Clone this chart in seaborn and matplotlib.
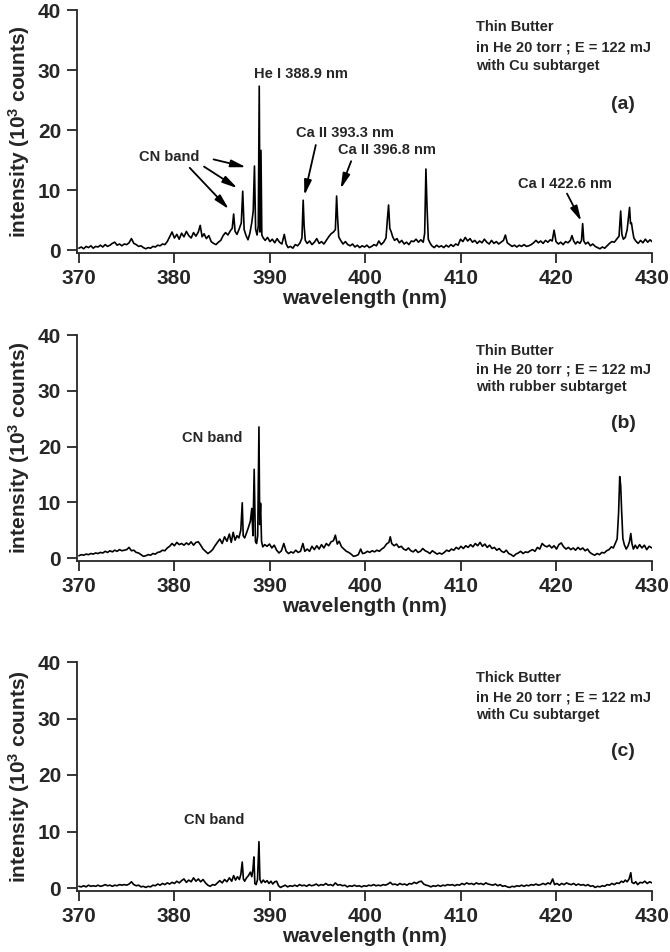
import matplotlib
matplotlib.use("Agg")
import numpy as np
import pandas as pd
import matplotlib.pyplot as plt
import seaborn as sns

# spectra: (wavelength nm, intensity 10^3 counts)
spec_a = [
    (370.0, 0.3), (370.25, 0.5), (370.5, 0.2), (370.75, 0.6), (371.0, 0.4), (371.25, 0.7),
    (371.5, 0.3), (371.75, 0.6), (372.0, 0.5), (372.25, 0.8), (372.5, 0.5), (372.75, 0.9),
    (373.0, 0.6), (373.25, 0.8), (373.5, 1.1), (373.75, 1.3), (374.0, 0.8), (374.25, 1.0),
    (374.5, 0.7), (374.75, 1.0), (375.0, 0.9), (375.25, 1.2), (375.5, 1.9), (375.75, 1.1),
    (376.0, 0.9), (376.25, 0.6), (376.5, 0.7), (376.75, 0.4), (377.0, 0.2), (377.25, 0.4),
    (377.5, 0.3), (377.75, 0.6), (378.0, 0.5), (378.25, 0.8), (378.5, 0.7), (378.75, 1.0),
    (379.0, 0.9), (379.25, 1.4), (379.5, 2.2), (379.75, 3.0), (380.0, 2.0), (380.25, 2.6),
    (380.5, 1.8), (380.75, 2.8), (381.0, 2.2), (381.25, 3.1), (381.5, 2.4), (381.75, 2.0),
    (382.0, 2.9), (382.25, 2.3), (382.5, 3.0), (382.7, 4.1), (382.9, 2.2), (383.1, 2.7),
    (383.35, 1.9), (383.6, 2.4), (383.85, 1.4), (384.1, 1.1), (384.35, 0.9), (384.6, 1.3),
    (384.85, 1.6), (385.1, 2.4), (385.35, 2.9), (385.6, 2.5), (385.85, 3.2), (386.05, 3.6),
    (386.2, 6.0), (386.35, 3.1), (386.55, 2.6), (386.8, 3.6), (387.0, 4.5), (387.15, 9.8),
    (387.3, 3.4), (387.5, 2.4), (387.7, 1.7), (387.9, 2.8), (388.1, 4.6), (388.25, 6.5),
    (388.38, 14.0), (388.5, 3.5), (388.65, 2.5), (388.78, 4.0), (388.88, 27.3), (388.96, 3.0),
    (389.06, 16.6), (389.15, 2.5), (389.3, 2.0), (389.5, 1.6), (389.75, 2.1), (390.0, 1.4),
    (390.25, 1.8), (390.5, 1.2), (390.75, 1.9), (391.0, 1.3), (391.25, 1.0), (391.5, 2.6),
    (391.7, 1.0), (391.9, 0.4), (392.15, 0.6), (392.4, 0.3), (392.65, 0.9), (392.9, 0.7),
    (393.15, 1.2), (393.35, 2.0), (393.48, 8.3), (393.58, 4.0), (393.7, 1.6), (393.9, 1.1),
    (394.15, 1.5), (394.4, 0.9), (394.65, 1.3), (394.9, 1.9), (395.15, 1.1), (395.4, 1.4),
    (395.65, 1.0), (395.9, 1.6), (396.15, 2.2), (396.4, 2.7), (396.65, 3.0), (396.85, 3.4),
    (396.98, 9.0), (397.08, 5.4), (397.2, 2.2), (397.4, 1.6), (397.65, 1.0), (397.9, 1.4),
    (398.15, 0.9), (398.4, 0.7), (398.65, 1.0), (398.9, 0.5), (399.15, 0.8), (399.4, 0.4),
    (399.65, 0.7), (399.9, 0.5), (400.15, 0.8), (400.4, 0.4), (400.65, 0.6), (400.9, 0.9),
    (401.15, 0.7), (401.4, 1.5), (401.65, 0.9), (401.9, 1.3), (402.15, 2.0), (402.3, 5.2),
    (402.42, 7.5), (402.55, 3.6), (402.7, 3.0), (402.85, 2.2), (403.05, 1.6), (403.3, 1.9),
    (403.55, 1.2), (403.8, 1.6), (404.05, 1.0), (404.3, 1.3), (404.55, 0.9), (404.8, 1.5),
    (405.05, 1.4), (405.3, 1.8), (405.55, 1.3), (405.8, 1.7), (406.05, 1.3), (406.2, 2.8),
    (406.33, 13.5), (406.45, 7.0), (406.58, 1.8), (406.75, 1.2), (406.95, 0.7), (407.2, 0.4),
    (407.45, 0.8), (407.7, 0.5), (407.95, 0.7), (408.2, 0.4), (408.45, 0.8), (408.7, 0.5),
    (408.95, 0.9), (409.2, 0.6), (409.45, 1.0), (409.7, 0.8), (409.95, 1.8), (410.2, 1.4),
    (410.45, 2.1), (410.7, 1.5), (410.95, 1.9), (411.2, 1.3), (411.45, 1.6), (411.7, 1.1),
    (411.95, 1.5), (412.2, 1.2), (412.45, 1.8), (412.7, 1.3), (412.95, 1.0), (413.2, 1.6),
    (413.45, 1.1), (413.7, 1.4), (413.95, 1.0), (414.2, 1.3), (414.45, 1.6), (414.65, 2.5),
    (414.85, 1.2), (415.1, 0.9), (415.35, 0.6), (415.6, 0.8), (415.85, 0.5), (416.1, 0.8),
    (416.35, 0.6), (416.6, 0.9), (416.85, 0.6), (417.1, 0.7), (417.35, 0.9), (417.6, 1.2),
    (417.85, 1.6), (418.1, 1.2), (418.35, 1.5), (418.6, 1.1), (418.85, 1.6), (419.1, 1.3),
    (419.35, 1.7), (419.55, 1.5), (419.75, 3.3), (419.95, 1.4), (420.2, 1.0), (420.45, 1.3),
    (420.7, 0.9), (420.95, 1.4), (421.2, 1.2), (421.45, 1.6), (421.62, 2.4), (421.8, 1.5),
    (422.0, 1.0), (422.2, 1.4), (422.45, 1.1), (422.62, 1.6), (422.74, 4.4), (422.86, 1.5),
    (423.05, 1.0), (423.3, 1.3), (423.55, 0.7), (423.8, 1.0), (424.05, 0.6), (424.3, 0.4),
    (424.55, 0.2), (424.8, 0.5), (425.05, 0.3), (425.3, 0.7), (425.55, 1.1), (425.8, 1.4),
    (426.05, 1.3), (426.3, 1.8), (426.55, 2.3), (426.72, 6.5), (426.85, 2.6), (427.0, 1.8),
    (427.2, 2.1), (427.4, 3.4), (427.55, 5.6), (427.65, 7.1), (427.75, 4.4), (427.85, 4.5),
    (427.95, 3.4), (428.1, 2.0), (428.3, 1.5), (428.55, 1.1), (428.8, 1.6), (429.05, 1.2),
    (429.3, 1.8), (429.55, 1.3), (429.8, 1.7), (430.0, 1.4),
]

spec_b = [
    (370.0, 0.4), (370.25, 0.6), (370.5, 0.5), (370.75, 0.7), (371.0, 0.6), (371.25, 0.8),
    (371.5, 0.7), (371.75, 0.9), (372.0, 0.8), (372.25, 1.0), (372.5, 0.9), (372.75, 1.2),
    (373.0, 1.0), (373.25, 1.3), (373.5, 1.1), (373.75, 1.4), (374.0, 1.2), (374.25, 1.5),
    (374.5, 1.3), (374.75, 1.4), (375.0, 1.5), (375.25, 1.9), (375.5, 1.3), (375.75, 1.4),
    (376.0, 1.0), (376.25, 0.9), (376.5, 0.6), (376.75, 0.3), (377.0, 0.4), (377.25, 0.6),
    (377.5, 0.5), (377.75, 0.8), (378.0, 0.7), (378.25, 1.0), (378.5, 1.1), (378.75, 1.4),
    (379.0, 1.3), (379.25, 1.8), (379.5, 2.1), (379.75, 2.6), (380.0, 2.2), (380.25, 2.8),
    (380.5, 2.4), (380.75, 2.6), (381.0, 2.3), (381.25, 2.7), (381.5, 2.4), (381.75, 2.9),
    (382.0, 2.3), (382.25, 2.8), (382.5, 2.9), (382.75, 2.3), (383.0, 1.6), (383.25, 1.2),
    (383.5, 0.8), (383.75, 1.1), (384.0, 1.5), (384.25, 2.2), (384.5, 2.8), (384.75, 3.4),
    (385.0, 2.6), (385.25, 3.8), (385.5, 3.0), (385.75, 4.3), (385.95, 2.8), (386.15, 4.6),
    (386.35, 3.2), (386.55, 4.0), (386.75, 3.6), (386.95, 5.0), (387.1, 9.9), (387.2, 4.0),
    (387.35, 3.6), (387.55, 4.5), (387.75, 5.5), (387.95, 6.6), (388.1, 8.9), (388.22, 4.0),
    (388.35, 15.9), (388.48, 3.0), (388.6, 2.6), (388.72, 4.0), (388.85, 23.5), (388.93, 6.0),
    (389.02, 9.8), (389.12, 3.0), (389.25, 2.0), (389.45, 2.4), (389.7, 2.1), (389.95, 2.5),
    (390.2, 1.8), (390.45, 2.3), (390.7, 1.4), (390.95, 0.9), (391.2, 1.3), (391.45, 2.6),
    (391.7, 1.2), (391.95, 0.8), (392.2, 1.1), (392.45, 0.9), (392.7, 1.4), (392.95, 1.0),
    (393.2, 1.2), (393.45, 2.6), (393.65, 1.2), (393.9, 1.6), (394.15, 1.2), (394.4, 2.1),
    (394.65, 1.5), (394.9, 2.2), (395.15, 1.6), (395.4, 2.4), (395.65, 1.8), (395.9, 2.6),
    (396.15, 2.2), (396.4, 2.9), (396.65, 3.1), (396.85, 4.1), (397.05, 2.5), (397.25, 3.0),
    (397.5, 2.0), (397.75, 1.6), (398.0, 1.2), (398.25, 1.0), (398.5, 0.7), (398.75, 0.3),
    (399.0, 0.4), (399.25, 0.6), (399.5, 1.6), (399.7, 0.8), (399.95, 0.9), (400.2, 1.2),
    (400.45, 1.0), (400.7, 1.3), (400.95, 1.1), (401.2, 1.4), (401.45, 1.2), (401.7, 1.6),
    (401.95, 1.9), (402.2, 2.5), (402.45, 2.8), (402.6, 3.8), (402.75, 2.6), (403.0, 2.2),
    (403.25, 2.5), (403.5, 1.9), (403.75, 2.1), (404.0, 1.6), (404.25, 1.4), (404.5, 1.8),
    (404.75, 1.3), (405.0, 1.1), (405.25, 1.5), (405.5, 1.0), (405.75, 1.2), (406.0, 1.7),
    (406.25, 1.3), (406.5, 1.1), (406.75, 0.8), (407.0, 1.3), (407.25, 1.0), (407.5, 0.7),
    (407.75, 0.9), (408.0, 0.7), (408.25, 1.0), (408.5, 1.4), (408.75, 1.2), (409.0, 1.6),
    (409.25, 1.4), (409.5, 1.9), (409.75, 1.6), (410.0, 2.1), (410.25, 1.7), (410.5, 2.2),
    (410.75, 1.9), (411.0, 2.4), (411.25, 2.0), (411.5, 2.6), (411.75, 2.2), (412.0, 2.8),
    (412.25, 2.1), (412.5, 2.5), (412.75, 1.9), (413.0, 2.3), (413.25, 1.7), (413.5, 1.9),
    (413.75, 1.4), (414.0, 1.7), (414.25, 1.2), (414.5, 1.0), (414.75, 1.4), (415.0, 0.8),
    (415.25, 0.6), (415.5, 0.3), (415.75, 0.7), (416.0, 0.9), (416.25, 1.2), (416.5, 0.8),
    (416.75, 1.1), (417.0, 1.0), (417.25, 1.3), (417.5, 1.5), (417.75, 1.2), (418.0, 1.9),
    (418.25, 1.6), (418.5, 2.6), (418.75, 2.2), (419.0, 2.0), (419.25, 2.3), (419.5, 1.8),
    (419.75, 2.2), (420.0, 1.6), (420.25, 2.4), (420.5, 2.7), (420.75, 2.0), (421.0, 1.6),
    (421.25, 1.9), (421.5, 1.5), (421.75, 1.8), (422.0, 1.4), (422.25, 1.9), (422.5, 1.5),
    (422.75, 1.8), (423.0, 1.3), (423.25, 1.6), (423.5, 1.0), (423.75, 0.7), (424.0, 0.5),
    (424.25, 0.8), (424.5, 0.6), (424.75, 1.0), (425.0, 0.9), (425.25, 1.3), (425.5, 1.5),
    (425.75, 2.0), (425.95, 1.8), (426.15, 2.6), (426.35, 3.4), (426.5, 8.0), (426.62, 14.6),
    (426.72, 13.0), (426.82, 8.5), (426.95, 3.5), (427.1, 2.4), (427.3, 1.6), (427.5, 2.2),
    (427.65, 3.0), (427.78, 4.4), (427.9, 2.6), (428.05, 1.6), (428.25, 2.3), (428.45, 1.7),
    (428.7, 2.4), (428.95, 1.8), (429.2, 2.3), (429.45, 1.5), (429.7, 2.1), (430.0, 1.8),
]

spec_c = [
    (370.0, 0.3), (370.25, 0.2), (370.5, 0.4), (370.75, 0.2), (371.0, 0.5), (371.25, 0.3),
    (371.5, 0.4), (371.75, 0.3), (372.0, 0.5), (372.25, 0.3), (372.5, 0.4), (372.75, 0.6),
    (373.0, 0.4), (373.25, 0.5), (373.5, 0.3), (373.75, 0.5), (374.0, 0.4), (374.25, 0.6),
    (374.5, 0.5), (374.75, 0.6), (375.0, 0.5), (375.25, 0.7), (375.5, 1.1), (375.75, 0.6),
    (376.0, 0.4), (376.25, 0.5), (376.5, 0.2), (376.75, 0.3), (377.0, 0.1), (377.25, 0.3),
    (377.5, 0.2), (377.75, 0.5), (378.0, 0.4), (378.25, 0.7), (378.5, 0.5), (378.75, 0.8),
    (379.0, 0.6), (379.25, 0.9), (379.5, 0.7), (379.75, 1.0), (380.0, 0.8), (380.25, 1.2),
    (380.5, 0.9), (380.75, 1.3), (381.0, 1.6), (381.25, 1.0), (381.5, 1.4), (381.75, 1.1),
    (382.0, 1.8), (382.25, 1.2), (382.5, 1.6), (382.75, 1.1), (383.0, 1.5), (383.25, 0.9),
    (383.5, 0.5), (383.75, 0.3), (384.0, 0.6), (384.25, 0.5), (384.5, 0.9), (384.75, 1.3),
    (385.0, 0.9), (385.25, 1.5), (385.5, 1.1), (385.75, 1.8), (386.0, 1.2), (386.2, 2.2),
    (386.4, 1.4), (386.6, 2.0), (386.8, 1.5), (386.95, 2.4), (387.1, 4.6), (387.22, 1.6),
    (387.35, 1.2), (387.55, 1.8), (387.75, 2.2), (387.95, 2.8), (388.1, 2.0), (388.22, 3.3),
    (388.32, 5.5), (388.42, 0.8), (388.55, 0.6), (388.7, 1.5), (388.85, 8.2), (388.95, 1.5),
    (389.1, 0.9), (389.3, 1.4), (389.5, 1.0), (389.7, 1.3), (389.9, 0.8), (390.1, 1.2),
    (390.3, 0.7), (390.5, 1.1), (390.7, 1.2), (390.9, 0.4), (391.1, 0.1), (391.35, 0.3),
    (391.6, 0.5), (391.85, 0.2), (392.1, 0.4), (392.35, 0.3), (392.6, 0.5), (392.85, 0.3),
    (393.1, 0.6), (393.35, 0.4), (393.6, 0.5), (393.85, 0.3), (394.1, 0.6), (394.35, 0.4),
    (394.6, 0.5), (394.85, 0.7), (395.1, 0.4), (395.35, 0.6), (395.6, 0.5), (395.85, 0.8),
    (396.1, 0.5), (396.35, 0.6), (396.6, 0.4), (396.85, 0.9), (397.1, 0.5), (397.35, 0.6),
    (397.6, 0.4), (397.85, 0.5), (398.1, 0.2), (398.35, 0.4), (398.6, 0.3), (398.85, 0.5),
    (399.1, 0.3), (399.35, 0.4), (399.6, 0.2), (399.85, 0.4), (400.1, 0.3), (400.35, 0.5),
    (400.6, 0.4), (400.85, 0.6), (401.1, 0.4), (401.35, 0.5), (401.6, 0.4), (401.85, 0.6),
    (402.1, 0.5), (402.35, 0.7), (402.6, 1.0), (402.85, 0.6), (403.1, 0.7), (403.35, 0.5),
    (403.6, 0.8), (403.85, 0.6), (404.1, 0.7), (404.35, 0.5), (404.6, 0.8), (404.85, 0.7),
    (405.1, 1.0), (405.35, 0.8), (405.6, 1.1), (405.85, 1.2), (406.1, 0.7), (406.35, 0.5),
    (406.6, 0.4), (406.85, 0.2), (407.1, 0.4), (407.35, 0.3), (407.6, 0.5), (407.85, 0.3),
    (408.1, 0.5), (408.35, 0.4), (408.6, 0.6), (408.85, 0.5), (409.1, 0.6), (409.35, 0.4),
    (409.6, 0.6), (409.85, 0.5), (410.1, 0.8), (410.35, 0.6), (410.6, 0.9), (410.85, 0.7),
    (411.1, 0.8), (411.35, 0.6), (411.6, 0.9), (411.85, 0.7), (412.1, 0.8), (412.35, 0.6),
    (412.6, 0.9), (412.85, 0.7), (413.1, 0.6), (413.35, 0.5), (413.6, 0.7), (413.85, 0.4),
    (414.1, 0.6), (414.35, 0.3), (414.6, 0.4), (414.85, 0.2), (415.1, 0.1), (415.35, 0.3),
    (415.6, 0.2), (415.85, 0.4), (416.1, 0.3), (416.35, 0.5), (416.6, 0.3), (416.85, 0.5),
    (417.1, 0.4), (417.35, 0.6), (417.6, 0.5), (417.85, 0.7), (418.1, 0.5), (418.35, 0.6),
    (418.6, 0.8), (418.85, 0.6), (419.1, 0.9), (419.35, 0.7), (419.6, 1.6), (419.8, 0.6),
    (420.05, 0.8), (420.3, 0.5), (420.55, 0.8), (420.8, 0.6), (421.05, 0.9), (421.3, 0.7),
    (421.55, 0.6), (421.8, 0.8), (422.05, 0.5), (422.3, 0.7), (422.55, 0.5), (422.8, 0.6),
    (423.05, 0.4), (423.3, 0.6), (423.55, 0.3), (423.8, 0.4), (424.05, 0.1), (424.3, 0.3),
    (424.55, 0.2), (424.8, 0.4), (425.05, 0.3), (425.3, 0.6), (425.55, 0.5), (425.8, 0.8),
    (426.05, 0.6), (426.3, 0.9), (426.55, 0.8), (426.8, 1.2), (427.0, 1.0), (427.2, 1.4),
    (427.4, 1.1), (427.6, 1.6), (427.78, 2.7), (427.9, 1.0), (428.1, 0.8), (428.3, 1.1),
    (428.5, 0.6), (428.75, 1.0), (429.0, 0.9), (429.25, 1.2), (429.5, 0.8), (429.75, 1.1),
    (430.0, 0.9),
]

x_ticks = [370, 380, 390, 400, 410, 420, 430]
y_ticks = [0, 10, 20, 30, 40]

info_a = ["Thin Butter", "in He 20 torr ; E = 122 mJ", "with Cu subtarget"]
info_b = ["Thin Butter", "in He 20 torr ; E = 122 mJ", "with rubber subtarget"]
info_c = ["Thick Butter", "in He 20 torr ; E = 122 mJ", "with Cu subtarget"]
panel_tags = ["(a)", "(b)", "(c)"]

sns.set_style("ticks")
plt.rcParams["font.family"] = ["Liberation Sans", "DejaVu Sans"]
plt.rcParams["font.weight"] = "bold"
plt.rcParams["axes.labelweight"] = "bold"
plt.rcParams["mathtext.fontset"] = "custom"
plt.rcParams["mathtext.bf"] = "Liberation Sans:bold"
plt.rcParams["mathtext.rm"] = "Liberation Sans:bold"
plt.rcParams["mathtext.default"] = "bf"

W, H = 670, 952
fig = plt.figure(figsize=(W / 100, H / 100), dpi=100)

# pixel rows for y=40 and y=0 of each panel
rows = [(10, 250), (335, 558), (662, 888)]
x_left, x_right = 77, 652
ymin = -0.5

axes = []
for top, zero in rows:
    unit = (zero - top) / 40.0
    bot = zero - ymin * unit
    ax = fig.add_axes([x_left / W, 1 - bot / H, (x_right - x_left) / W, (bot - top) / H])
    axes.append(ax)

arrow_kw = dict(arrowstyle="-|>,head_length=0.9,head_width=0.22", color="black", lw=1.3,
                shrinkA=0, shrinkB=0)
txt_kw = dict(fontsize=10.5, fontweight="bold", ha="center", va="center")
info_rows = [37.2, 33.8, 30.6]

for ax, spec, info, tag in zip(axes, [spec_a, spec_b, spec_c], [info_a, info_b, info_c], panel_tags):
    df = pd.DataFrame(spec, columns=["wavelength", "intensity"])
    sns.lineplot(data=df, x="wavelength", y="intensity", ax=ax, color="black",
                 linewidth=1.2, estimator=None, sort=False)
    ax.set_xlim(369.8, 430)
    ax.set_ylim(ymin, 40)
    ax.set_xticks(x_ticks)
    ax.set_yticks(y_ticks)
    sns.despine(ax=ax)
    for s in ["left", "bottom"]:
        ax.spines[s].set_linewidth(1.3)
    ax.tick_params(direction="out", length=7.5, width=1.3, labelsize=15, pad=4)
    ax.set_xlabel("wavelength (nm)", fontsize=15, fontweight="bold", labelpad=1)
    ax.set_ylabel(r"intensity (10$^{3}$ counts)", fontsize=15, fontweight="bold", labelpad=4)
    for line, yv in zip(info, info_rows):
        ax.text(411.6, yv, line, fontsize=10.5, fontweight="bold", ha="left", va="center")
    ax.text(427.0, 24.2, tag, fontsize=14, fontweight="bold", ha="center", va="center")

# panel (a) line labels
ax = axes[0]
ax.text(393.2, 29.4, "He I 388.9 nm", **txt_kw)
ax.text(397.85, 19.5, "Ca II 393.3 nm", **txt_kw)
ax.text(402.25, 16.6, "Ca II 396.8 nm", **txt_kw)
ax.text(420.85, 11.0, "Ca I 422.6 nm", **txt_kw)
ax.text(379.4, 15.5, "CN band", **txt_kw)
ax.annotate("", xy=(385.7, 6.8), xytext=(381.6, 13.7), arrowprops=arrow_kw)
ax.annotate("", xy=(386.6, 10.3), xytext=(383.1, 13.9), arrowprops=arrow_kw)
ax.annotate("", xy=(387.5, 13.8), xytext=(384.1, 15.1), arrowprops=arrow_kw)
ax.annotate("", xy=(393.6, 9.1), xytext=(394.8, 17.5), arrowprops=arrow_kw)
ax.annotate("", xy=(397.4, 10.2), xytext=(398.5, 14.8), arrowprops=arrow_kw)
ax.annotate("", xy=(422.6, 4.8), xytext=(421.1, 9.4), arrowprops=arrow_kw)

axes[1].text(384.0, 21.5, "CN band", **txt_kw)
axes[2].text(384.2, 12.1, "CN band", **txt_kw)

fig.savefig("out.png", dpi=100)
